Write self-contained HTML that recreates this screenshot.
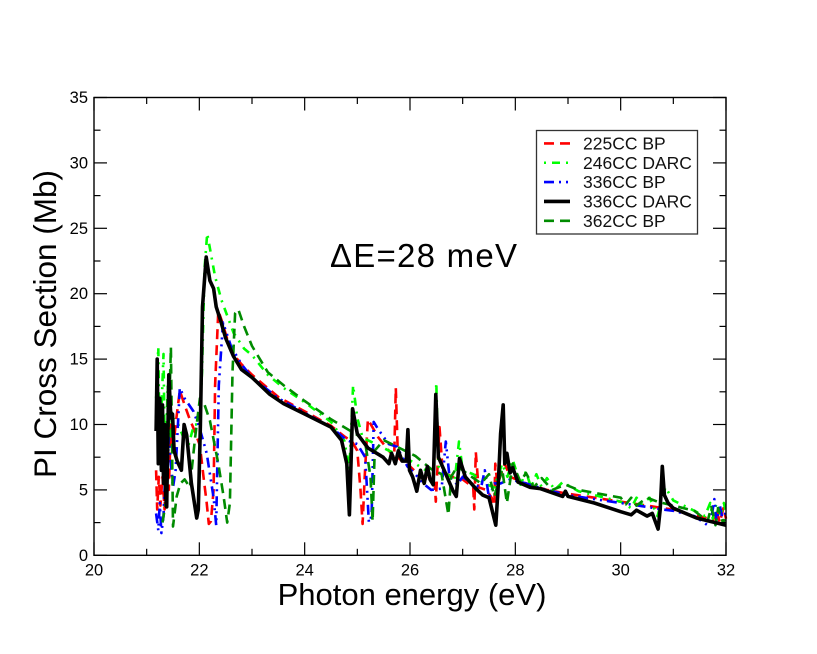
<!DOCTYPE html>
<html>
<head>
<meta charset="utf-8">
<style>
html,body{margin:0;padding:0;background:#fff;}
svg{display:block;font-family:"Liberation Sans",sans-serif;}
</style>
</head>
<body>
<svg id="chart" width="817" height="654" viewBox="0 0 817 654" xmlns="http://www.w3.org/2000/svg">
<rect width="817" height="654" fill="#fff"/>
<g id="series"></g>
<g id="axes"></g>
<text x="412" y="605" font-size="31" text-anchor="middle">Photon energy (eV)</text>
<text transform="translate(56,324) rotate(-90)" font-size="31.5" text-anchor="middle">PI Cross Section (Mb)</text>
<text x="330" y="267" font-size="33" textLength="187" lengthAdjust="spacing">ΔE=28 meV</text>
<g id="legend">
<rect x="536.5" y="130.5" width="161" height="103.5" fill="#fff" stroke="#333" stroke-width="1.3"/>
</g>
</svg>
<script>
const xTicks = [20,22,24,26,28,30,32];
const yTicks = [0,5,10,15,20,25,30,35];
const xMinor = [21,23,25,27,29,31];
const yMinor = [2.5,7.5,12.5,17.5,22.5,27.5,32.5];

const e225 = [21.18,21.2,21.23,21.26,21.3,21.34,21.38,21.42,21.46,21.5,21.55,21.63,21.72,21.8,21.9,22.01,22.08,22.14,22.18,22.22,22.27,22.3,22.36,22.42,22.6,22.8,23,23.5,24,24.5,24.75,24.9,25,25.06,25.1,25.14,25.2,25.4,25.6,25.7,25.73,25.77,25.9,26,26.2,26.4,26.47,26.49,26.56,26.62,26.8,27,27.2,27.22,27.25,27.3,27.45,27.55,27.6,27.62,27.66,27.8,27.9,28.2,28.6,29,29.5,30,30.5,30.8,31,31.3,31.6,31.75,31.82,31.88,31.95,32];
const v225 = [6.5,3.5,6,3.8,6,3.5,8,5,10,8,10,12.6,11.5,10.6,9.6,8.4,6,4,2.4,2.6,5,13,18.7,18,15.6,14.6,13.8,12.1,11,9.9,9.1,8.7,8,5,2.4,6,10.4,9,8,7.5,12.8,7.5,7,6.8,6,5.8,5.5,4.1,9.8,6.4,6,5.8,5.2,3.5,7.9,5.2,5,4.4,3.8,7,5.4,7,6,5.5,5,4.7,4.4,4.1,3.8,3.6,3.5,3.1,2.9,2.6,3.5,2.5,3.6,2.8];

const e246 = [21.18,21.22,21.25,21.28,21.32,21.35,21.4,21.44,21.5,21.6,21.7,21.8,21.9,22,22.05,22.1,22.15,22.3,22.42,22.65,22.85,23,23.3,23.6,24,24.5,24.75,24.85,24.92,25,25.1,25.3,25.6,25.9,26.1,26.3,26.45,26.5,26.54,26.7,26.85,26.93,27,27.2,27.4,27.6,27.75,27.85,27.95,28.1,28.2,28.3,28.4,28.5,28.6,28.75,28.9,29.2,29.6,30,30.2,30.3,30.4,30.55,30.7,30.85,31,31.3,31.6,31.7,31.75,31.82,31.9,31.96,32];
const v246 = [12,15.9,7,11,15.4,6,13,9,10.5,10,9,8.5,10,10,14,22,24.6,21.3,19.5,17,15.8,15.3,13.8,12.8,11.7,10.2,8.8,6.6,13,10.5,9,8.6,8,7.5,7,6.5,6,13.2,6.8,6.2,5.8,8.7,6.5,6.2,5.5,5.2,7,6,7.3,5.4,6.4,5.2,6.2,5.2,5.9,5,5.6,4.9,4.5,4.1,3.6,4.4,3.9,4.4,3,5.2,4.2,3.6,3,4,2.8,4,3,4,3.2];

const e336 = [21.18,21.22,21.25,21.28,21.32,21.35,21.38,21.42,21.46,21.5,21.55,21.63,21.72,21.89,22,22.14,22.27,22.32,22.37,22.45,22.6,22.8,23,23.5,24,24.5,24.8,25,25.15,25.22,25.27,25.31,25.4,25.6,25.75,25.95,26.1,26.25,26.4,26.6,26.68,26.75,26.9,27,27.2,27.35,27.42,27.5,27.6,27.72,27.9,28.2,28.6,29,29.5,30,30.5,30.8,31,31.4,31.65,31.72,31.78,31.82,31.88,31.94,32];
const v336 = [3.2,1.9,4,1.7,3,6,4.5,9,7,5.2,6.5,12.8,12,11,9.8,7.8,4.4,2.3,13,17.8,16,14.6,13.6,12,10.9,9.8,8.8,8.5,7.5,2.5,3,10.2,9.6,8.5,8.3,6.8,6.2,5.5,5,5.1,8.7,6,5.4,6,5.4,5.2,6.5,4.4,5.5,5.5,5.8,5.5,5,4.6,4.3,4,3.7,3.5,3.4,3,2.3,2.8,4.3,2.6,3.9,2.6,3.4];

const e336d = [21.18,21.2,21.22,21.25,21.28,21.3,21.32,21.34,21.36,21.38,21.42,21.46,21.49,21.52,21.58,21.66,21.71,21.76,21.85,21.95,21.98,22.02,22.06,22.13,22.2,22.27,22.32,22.4,22.5,22.65,22.8,23,23.34,23.6,24,24.5,24.7,24.8,24.85,24.88,24.91,25,25.2,25.49,25.6,25.65,25.72,25.78,25.85,25.93,25.96,25.99,26.05,26.13,26.2,26.27,26.33,26.38,26.44,26.49,26.54,26.65,26.82,26.88,26.94,27.05,27.25,27.38,27.5,27.55,27.63,27.67,27.72,27.77,27.8,27.84,27.9,27.95,28.05,28.28,28.47,28.9,28.95,29,29.5,30,30.2,30.3,30.5,30.6,30.71,30.75,30.79,30.83,30.9,31,31.44,32];
const v336d = [9.5,15,7,12,6.5,11.5,5.5,10,4.5,3.7,13.8,10.5,10.8,8,7.2,6.5,10,9.2,5.5,2.85,3.5,10,19,22.8,21,20.4,19,18,16.6,15.2,14.2,13.6,12.3,11.6,10.8,9.8,8.8,7,3.1,7,11.2,9.3,8.2,7.5,7,7.8,7,8,7.2,7.2,9.6,6.5,6,4.9,6.5,5.5,6.8,5.8,5.4,12.3,7.5,6.5,4.9,4.5,7.4,6,5.1,4.6,4.4,3.6,2.3,5,9.3,11.5,7,7.8,6.3,6.7,5.6,5.2,5.1,4.5,4.9,4.5,4,3.33,3.1,3.45,3,3.2,2,3.5,6.8,4.6,4,3.6,2.85,2.3];

const e362 = [21.3,21.38,21.46,21.5,21.57,21.64,21.72,21.82,21.92,22.01,22.1,22.2,22.36,22.46,22.53,22.58,22.63,22.68,22.74,22.85,23,23.3,23.6,24,24.5,25,25.15,25.25,25.29,25.33,25.5,25.8,26.1,26.4,26.6,26.73,26.78,26.9,27.1,27.35,27.5,27.6,27.75,27.84,27.95,28.1,28.2,28.35,28.5,28.7,28.95,29.2,29.6,30,30.1,30.2,30.3,30.5,30.7,31,31.4,31.65,31.72,31.8,31.85,31.95,32];
const v362 = [2.5,4.5,15.9,2.2,4.5,5.5,5.8,5.2,9,12,11.5,10.3,7,4.5,2.5,4,14,18.5,18.8,17.5,16,14,13,11.8,10.4,9.2,8.6,6,2.6,8,8.8,8.2,7.6,6.6,6.2,3.1,6,6.8,6.2,5.5,6.2,4.5,6.6,4,7,5.6,6.3,5.2,5.9,5,5.4,5,4.7,4.4,3.9,4.4,3.8,4.4,4.1,3.8,3.4,2.6,3.7,2.3,3.6,2.4,3.2];

const seriesNames = ["225CC BP","246CC DARC","336CC BP","336CC DARC","362CC BP"];
const seriesColors = ["#ff0000","#00ff00","#0000ff","#000000","#008b00"];
const seriesDash = ["10 6","2 6 8 6","10 5 2 5 2 5","","10 6"];
const seriesWidths = [2.6,2.6,2.6,3.6,2.6];
const drawOrder = [0,1,2,4,3];
const seriesEnergies = [e225,e246,e336,e336d,e362];
const seriesValues = [v225,v246,v336,v336d,v362];

const NS = "http://www.w3.org/2000/svg";
function sx(v){return 94 + (v-20)*(726-94)/12;}
function sy(v){return 555.3 - v*(555.3-97.5)/35;}

function make(tag, attrs, parent){
  const el = document.createElementNS(NS, tag);
  for (const k in attrs) el.setAttribute(k, attrs[k]);
  parent.appendChild(el);
  return el;
}

const seriesGroup = document.getElementById("series");
drawOrder.forEach(function(i){
  const pts = seriesEnergies[i].map(function(x,j){return sx(x).toFixed(1)+","+sy(seriesValues[i][j]).toFixed(1);}).join(" ");
  const line = make("polyline",{points:pts,fill:"none",stroke:seriesColors[i],"stroke-width":seriesWidths[i],"stroke-dasharray":seriesDash[i],"stroke-linejoin":"round"},seriesGroup);
  
  
});

const axes = document.getElementById("axes");
const frame = make("rect",{x:94,y:97.5,width:632,height:457.8,fill:"none",stroke:"#000","stroke-width":1.4},axes);



function tick(x1,y1,x2,y2){
  const t = make("line",{x1:x1,y1:y1,x2:x2,y2:y2,stroke:"#000","stroke-width":1.2},axes);
  
  
}
xTicks.forEach(function(v){
  const x = sx(v);
  tick(x,555.3,x,542.3);
  tick(x,97.5,x,110.5);
  const label = make("text",{x:x,y:575.5,"font-size":16.5,"text-anchor":"middle"},axes);
  label.textContent = v;
  
  
});
xMinor.forEach(function(v){
  const x = sx(v);
  tick(x,555.3,x,548.8);
  tick(x,97.5,x,104);
});
yTicks.forEach(function(v){
  const y = sy(v);
  tick(94,y,107,y);
  tick(726,y,713,y);
  const label = make("text",{x:88,y:y+5.5,"font-size":16.5,"text-anchor":"end"},axes);
  label.textContent = v;
  
  
});
yMinor.forEach(function(v){
  const y = sy(v);
  tick(94,y,100.5,y);
  tick(726,y,719.5,y);
});

const legend = document.getElementById("legend");
seriesNames.forEach(function(name,i){
  const y = 143.4 + i*19.35;
  const sample = make("line",{x1:544,y1:y,x2:570,y2:y,stroke:seriesColors[i],"stroke-width":seriesWidths[i],"stroke-dasharray":seriesDash[i]},legend);
  
  
  const label = make("text",{x:583,y:y+6,"font-size":17.5,fill:"#111"},legend);
  label.textContent = name;
  
  
});
</script>
</body>
</html>
